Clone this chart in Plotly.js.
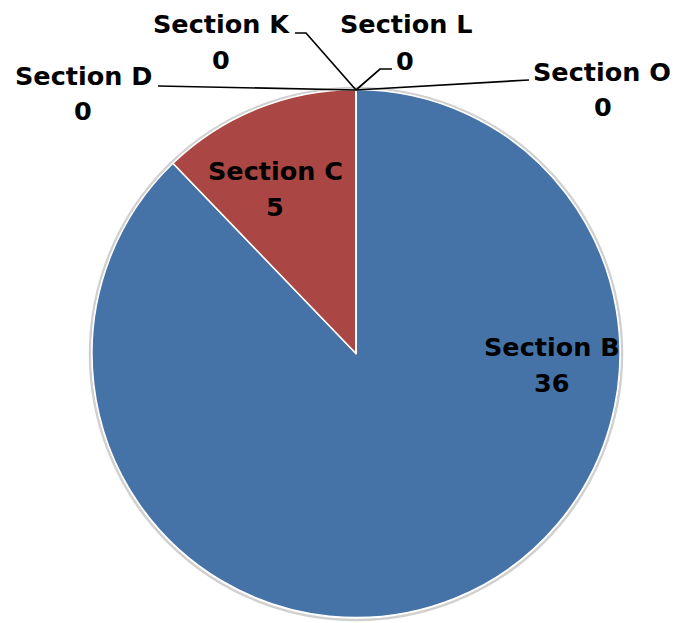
<!DOCTYPE html>
<html>
<head>
<meta charset="utf-8">
<script src="https://cdn.plot.ly/plotly-3.0.1.min.js"></script>
<style>html,body{margin:0;padding:0;background:#fff;}#chart{width:677px;height:623px;}</style>
</head>
<body>
<div id="chart"></div>
<script>
// ---- data ----
var labels = ["Section B", "Section C", "Section D", "Section K", "Section L", "Section O"];
var values = [36, 5, 0, 0, 0, 0];

// ---- styling / layout (not data) ----
var colors = ["#4572A7", "#AA4643", "#89A54E", "#71588F", "#4198AF", "#DB843D"];
var W = 677, H = 623;
var cx = 356, cy = 353.5, R = 264;
// label text centres in pixels: [labelX, labelY, valueX, valueY]
var labelPos = [
  [552, 347, 552, 383],
  [275, 171, 275, 207],
  [83, 76, 83, 111],
  [221, 24, 221, 60],
  [406, 24, 405, 61],
  [602, 72, 603, 107]
];
// leader lines for the zero slices (pixels)
var leaders = [
  null, null,
  [[158, 86], [356, 90]],
  [[295, 33], [306, 33], [356, 90]],
  [[356, 90], [380, 69], [392, 69]],
  [[356, 90], [529, 80]]
];
function px(x) { return x / W; }
function py(y) { return 1 - y / H; }

var font = {family: "DejaVu Sans", size: 25.5, color: "#000"};

var trace = {
  type: "pie",
  labels: labels,
  values: values,
  sort: false,
  direction: "clockwise",
  rotation: 0,
  textinfo: "none",
  hoverinfo: "label+value",
  marker: {colors: colors, line: {color: "#ffffff", width: 1.5}},
  domain: {x: [px(cx - R), px(cx + R)], y: [py(cy + R), py(cy - R)]},
  showlegend: false
};

var annotations = [];
var shapes = [
  // faint shadow rim around the pie
  {type: "circle", xref: "paper", yref: "paper", layer: "below",
   x0: px(cx - R - 2), x1: px(cx + R + 2), y0: py(cy + R + 2.5), y1: py(cy - R - 1.5),
   line: {color: "rgba(150,150,150,0.45)", width: 2.5}, fillcolor: "rgba(0,0,0,0)"}
];
for (var i = 0; i < labels.length; i++) {
  var p = labelPos[i];
  annotations.push({
    xref: "paper", yref: "paper", x: px(p[0]), y: py(p[1]),
    xanchor: "center", yanchor: "middle", showarrow: false,
    text: "<b>" + labels[i] + "</b>", font: font
  });
  annotations.push({
    xref: "paper", yref: "paper", x: px(p[2]), y: py(p[3]),
    xanchor: "center", yanchor: "middle", showarrow: false,
    text: "<b>" + values[i] + "</b>", font: font
  });
  if (leaders[i]) {
    var d = leaders[i].map(function (pt, k) {
      return (k === 0 ? "M" : "L") + px(pt[0]) + "," + py(pt[1]);
    }).join(" ");
    shapes.push({type: "path", xref: "paper", yref: "paper", path: d,
      line: {color: "#000", width: 1.7}});
  }
}

var layout = {
  width: W, height: H,
  margin: {l: 0, r: 0, t: 0, b: 0},
  paper_bgcolor: "#ffffff",
  plot_bgcolor: "#ffffff",
  showlegend: false,
  annotations: annotations,
  shapes: shapes
};

Plotly.newPlot("chart", [trace], layout, {displayModeBar: false, staticPlot: true});
</script>
</body>
</html>
